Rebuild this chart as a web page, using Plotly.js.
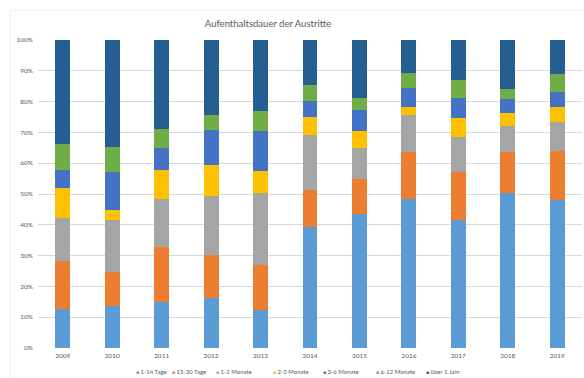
<!DOCTYPE html>
<html>
<head>
<meta charset="utf-8">
<script src="https://cdn.plot.ly/plotly-3.0.1.min.js"></script>
<style>html,body{margin:0;padding:0;background:#fff;}#chart{width:584px;height:378px;}</style>
</head>
<body>
<div id="chart"></div>
<script>
const years = ['2009','2010','2011','2012','2013','2014','2015','2016','2017','2018','2019'];
const seriesNames = ['1-14 Tage','15-30 Tage','1-2 Monate','2-3 Monate','3-6 Monate','6-12 Monate','über 1 Jahr'];
const tage1_14   = [12.8, 13.5, 14.9, 16.1, 12.3, 39.2, 43.6, 48.4, 41.7, 50.4, 47.9];
const tage15_30  = [15.3, 11.1, 17.9, 14.2, 14.8, 12.1, 11.2, 15.1, 15.4, 13.4, 16.1];
const monate1_2  = [14.1, 17.0, 15.7, 19.1, 23.2, 17.8, 10.0, 12.1, 11.4, 8.4, 9.5];
const monate2_3  = [9.9, 3.3, 9.4, 10.1, 7.3, 6.0, 5.8, 2.7, 6.1, 4.1, 4.9];
const monate3_6  = [5.7, 12.4, 7.1, 11.3, 12.9, 5.2, 6.8, 6.2, 6.7, 4.7, 4.6];
const monate6_12 = [8.5, 7.8, 6.2, 4.9, 6.4, 5.1, 3.8, 4.9, 5.7, 3.1, 6.1];
const ueber1Jahr = [33.7, 34.9, 28.8, 24.3, 23.1, 14.6, 18.8, 10.6, 13.0, 15.9, 10.9];
const colors = ['#5B9BD5','#ED7D31','#A5A5A5','#FFC000','#4472C4','#70AD47','#255E91'];
const allSeries = [tage1_14, tage15_30, monate1_2, monate2_3, monate3_6, monate6_12, ueber1Jahr];

const traces = allSeries.map((vals, i) => ({
  type: 'bar', x: years, y: vals, name: seriesNames[i],
  marker: {color: colors[i], line: {width: 0}}, showlegend: false,
  hovertemplate: '%{x}: %{y:.1f}%<extra>' + seriesNames[i] + '</extra>'
}));

const W = 584, L = 38, R = 2;
const pw = W - L - R;
const FONT = 'Lato, "Open Sans", sans-serif';
const legendX = [137, 173, 217, 274, 324, 377, 427];
const annotations = seriesNames.map((n, i) => ({
  xref: 'paper', yref: 'paper',
  x: (legendX[i] - 2 - L) / pw, y: -0.076, xanchor: 'left', yanchor: 'middle',
  showarrow: false, borderpad: 0,
  text: '<span style="color:' + colors[i] + ';font-size:5px">■</span> ' + n,
  font: {family: FONT, size: 6, color: '#595959'}
}));

const layout = {
  width: 584, height: 378,
  margin: {l: L, r: R, t: 40, b: 29.5, pad: 0},
  paper_bgcolor: '#ffffff', plot_bgcolor: '#ffffff',
  barmode: 'stack', barnorm: 'percent', bargap: 0.7,
  title: {text: 'Aufenthaltsdauer der Austritte', x: 268 / 584, xanchor: 'center', y: 1 - 24 / 378, yanchor: 'middle',
    font: {family: FONT, size: 9.5, color: '#595959'}},
  xaxis: {type: 'category', showgrid: false, zeroline: false, showline: false, ticks: '',
    tickfont: {family: FONT, size: 6.5, color: '#595959'}, ticklabelstandoff: 2},
  yaxis: {range: [0, 100], dtick: 10, ticksuffix: '%', showgrid: true, gridcolor: '#D9D9D9', gridwidth: 1,
    zeroline: false, showline: false, ticks: '',
    tickfont: {family: FONT, size: 6.5, color: '#595959'}, ticklabelstandoff: 4},
  annotations: annotations,
  shapes: [{type: 'path', xref: 'paper', yref: 'paper',
    path: 'M ' + ((10 - L) / pw) + ',' + (-1) + ' L ' + ((10 - L) / pw) + ',' + (1 + 30 / 308.5) + ' L ' + (1.1) + ',' + (1 + 30 / 308.5),
    line: {color: '#F0F0F0', width: 1}}],
  showlegend: false
};

Plotly.newPlot('chart', traces, layout, {displayModeBar: false, staticPlot: true});
</script>
</body>
</html>
